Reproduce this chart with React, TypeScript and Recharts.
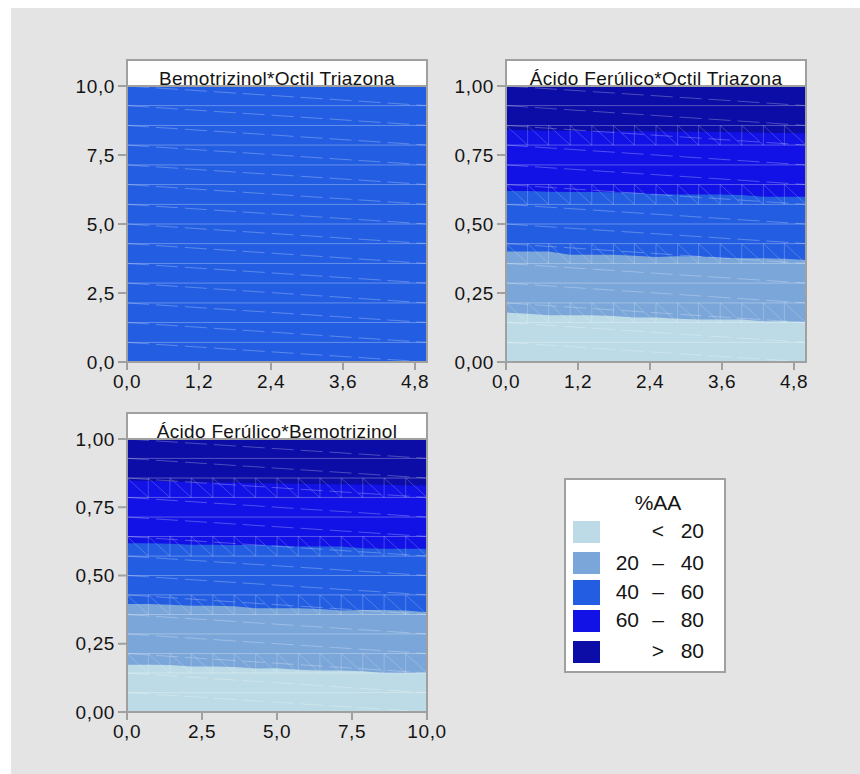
import { ComposedChart, Area, XAxis, YAxis, ReferenceLine } from 'recharts';

const FONT = '"Liberation Sans", Arial, Helvetica, sans-serif';
const BG = '#e4e4e4';
const FRAME = '#a0a0a0';

const C_LT20 = '#bcdbe6';
const C_2040 = '#7ba6d9';
const C_4060 = '#235ee2';
const C_6080 = '#1212e6';
const C_GT80 = '#0c0ca6';

// mesh columns / rows of the contour grid
const xGrid5 = [0, 0.36, 0.71, 1.07, 1.43, 1.79, 2.14, 2.5, 2.86, 3.21, 3.57, 3.93, 4.29, 4.64, 5];
const xGrid10 = [0, 0.71, 1.43, 2.14, 2.86, 3.57, 4.29, 5, 5.71, 6.43, 7.14, 7.86, 8.57, 9.29, 10];
const rowsBem = [0, 0.71, 1.43, 2.14, 2.86, 3.57, 4.29, 5, 5.71, 6.43, 7.14, 7.86, 8.57, 9.29, 10];
const rowsAf = [0, 0.071, 0.143, 0.214, 0.286, 0.357, 0.429, 0.5, 0.571, 0.643, 0.714, 0.786, 0.857, 0.929, 1];
const zoneRows = [2, 5, 8, 11];

// Bemotrizinol*Octil Triazona (all 40–60)
const bemOtTop = [10, 10, 10, 10, 10, 10, 10, 10, 10, 10, 10, 10, 10, 10, 10];

// Ácido Ferúlico*Octil Triazona
const afOt20 = [0.179, 0.175, 0.169, 0.169, 0.169, 0.167, 0.161, 0.161, 0.157, 0.154, 0.154, 0.154, 0.148, 0.148, 0.145];
const afOt40 = [0.4, 0.4, 0.4, 0.389, 0.389, 0.389, 0.385, 0.38, 0.383, 0.383, 0.378, 0.376, 0.376, 0.374, 0.37];
const afOt60 = [0.62, 0.62, 0.617, 0.616, 0.616, 0.615, 0.613, 0.608, 0.607, 0.607, 0.607, 0.605, 0.599, 0.599, 0.599];
const afOt80 = [0.842, 0.84, 0.838, 0.838, 0.837, 0.836, 0.836, 0.835, 0.834, 0.834, 0.833, 0.832, 0.831, 0.83, 0.829];
const afOtTop = [1, 1, 1, 1, 1, 1, 1, 1, 1, 1, 1, 1, 1, 1, 1];

// Ácido Ferúlico*Bemotrizinol
const afBem20 = [0.173, 0.173, 0.172, 0.167, 0.167, 0.165, 0.159, 0.16, 0.155, 0.152, 0.152, 0.149, 0.143, 0.143, 0.143];
const afBem40 = [0.396, 0.396, 0.393, 0.389, 0.389, 0.387, 0.38, 0.38, 0.38, 0.377, 0.372, 0.374, 0.374, 0.372, 0.365];
const afBem60 = [0.618, 0.618, 0.616, 0.613, 0.613, 0.612, 0.612, 0.61, 0.606, 0.606, 0.606, 0.6, 0.598, 0.598, 0.598];
const afBem80 = [0.848, 0.846, 0.844, 0.842, 0.841, 0.84, 0.838, 0.837, 0.836, 0.835, 0.834, 0.833, 0.832, 0.831, 0.83];
const afBemTop = [1, 1, 1, 1, 1, 1, 1, 1, 1, 1, 1, 1, 1, 1, 1];

const legendTitle = '%AA';
const legendRows = [
  { a: '', b: '<', c: '20', color: C_LT20 },
  { a: '20', b: '–', c: '40', color: C_2040 },
  { a: '40', b: '–', c: '60', color: C_4060 },
  { a: '60', b: '–', c: '80', color: C_6080 },
  { a: '', b: '>', c: '80', color: C_GT80 },
];

const bemOtRows = xGrid5.map((x, i) => ({ x, top: bemOtTop[i] }));
const afOtRows = xGrid5.map((x, i) => ({ x, top: afOtTop[i], b80: afOt80[i], b60: afOt60[i], b40: afOt40[i], b20: afOt20[i] }));
const afBemRows = xGrid10.map((x, i) => ({ x, top: afBemTop[i], b80: afBem80[i], b60: afBem60[i], b40: afBem40[i], b20: afBem20[i] }));

const fullBands = [
  { key: 'top', color: C_GT80 },
  { key: 'b80', color: C_6080 },
  { key: 'b60', color: C_4060 },
  { key: 'b40', color: C_2040 },
  { key: 'b20', color: C_LT20 },
];

const fmt = (d: number) => (v: number) => v.toFixed(d).replace('.', ',');

function meshLines(mx: number[], my: number[], zones: number[]) {
  const out: any[] = [];
  const x0 = mx[0];
  const x1 = mx[mx.length - 1];
  my.slice(1, -1).forEach((y, i) => {
    out.push(<ReferenceLine key={`h${i}`} y={y} stroke="#fff" strokeOpacity={0.3} strokeWidth={1} />);
  });
  for (let k = 1; k < my.length; k++) {
    out.push(
      <ReferenceLine key={`d${k}`} segment={[{ x: x0, y: my[k] }, { x: x1, y: my[k - 1] }]}
        stroke="#fff" strokeOpacity={0.26} strokeDasharray="22 7" />
    );
  }
  zones.forEach((z) => {
    mx.forEach((x, i) => {
      out.push(
        <ReferenceLine key={`v${z}-${i}`} segment={[{ x, y: my[z] }, { x, y: my[z + 1] }]}
          stroke="#fff" strokeOpacity={0.22} />
      );
      if (i < mx.length - 1) {
        out.push(
          <ReferenceLine key={`t${z}-${i}`} segment={[{ x, y: my[z + 1] }, { x: mx[i + 1], y: my[z] }]}
            stroke="#fff" strokeOpacity={0.2} />
        );
      }
    });
  });
  return out;
}

function Panel(props: any) {
  const { left, top, width, height, margin, data, bands, xDomain, xTicks, yDomain, yTicks, yDec, mx, my, zones } = props;
  const tickStyle = { fill: '#141414', fontSize: 19, fontFamily: FONT, letterSpacing: 0.6 };
  return (
    <div style={{ position: 'absolute', left, top, width, height }}>
      <ComposedChart width={width} height={height} data={data} margin={margin}>
        <XAxis dataKey="x" type="number" domain={xDomain} ticks={xTicks} tickFormatter={fmt(1)}
          axisLine={false} tickSize={8} tickMargin={5} height={30}
          tickLine={{ stroke: FRAME, strokeWidth: 2 }} tick={tickStyle} allowDataOverflow interval={0} />
        <YAxis type="number" domain={yDomain} ticks={yTicks} tickFormatter={fmt(yDec)}
          axisLine={false} tickSize={9} tickMargin={3} width={60}
          tickLine={{ stroke: FRAME, strokeWidth: 2 }} tick={tickStyle} allowDataOverflow interval={0} />
        {bands.map((b: any) => (
          <Area key={b.key} type="linear" dataKey={b.key} stroke="none" fill={b.color} fillOpacity={1}
            isAnimationActive={false} dot={false} activeDot={false} />
        ))}
        {meshLines(mx, my, zones)}
      </ComposedChart>
    </div>
  );
}

function Overlay() {
  const panels = [
    { x: 127, y: 60, h: 302, title: 'Bemotrizinol*Octil Triazona' },
    { x: 506, y: 60, h: 302, title: 'Ácido Ferúlico*Octil Triazona' },
    { x: 127, y: 413, h: 299, title: 'Ácido Ferúlico*Bemotrizinol' },
  ];
  const sw = [
    { y: 521, h: 22, base: 538 },
    { y: 552, h: 22, base: 570 },
    { y: 580, h: 25, base: 599 },
    { y: 610, h: 22, base: 627 },
    { y: 641, h: 22, base: 658 },
  ];
  return (
    <svg width={860} height={774} style={{ position: 'absolute', left: 0, top: 0, pointerEvents: 'none' }}>
      {panels.map((p) => (
        <g key={p.title}>
          <rect x={p.x} y={p.y} width={300} height={p.h} fill="none" stroke={FRAME} strokeWidth={2} />
          <rect x={p.x} y={p.y} width={300} height={26} fill="#fff" stroke={FRAME} strokeWidth={2} />
          <text x={p.x + 150} y={p.y + 25} textAnchor="middle" fontFamily={FONT} fontSize={19}
            letterSpacing={0.3} fill="#141414">{p.title}</text>
        </g>
      ))}
      <rect x={565} y={479} width={160} height={193} fill="#fff" stroke={FRAME} strokeWidth={2} />
      <text x={658} y={510} textAnchor="middle" fontFamily={FONT} fontSize={21} fill="#141414">{legendTitle}</text>
      {legendRows.map((r, i) => (
        <g key={i}>
          <rect x={573} y={sw[i].y} width={27} height={sw[i].h} fill={r.color} />
          <text x={639} y={sw[i].base} textAnchor="end" fontFamily={FONT} fontSize={21} fill="#141414">{r.a}</text>
          <text x={658} y={sw[i].base} textAnchor="middle" fontFamily={FONT} fontSize={21} fill="#141414">{r.b}</text>
          <text x={704} y={sw[i].base} textAnchor="end" fontFamily={FONT} fontSize={21} fill="#141414">{r.c}</text>
        </g>
      ))}
    </svg>
  );
}

export default function App() {
  return (
    <div style={{ position: 'absolute', left: 0, top: 0, width: 860, height: 774, background: '#fff', fontFamily: FONT }}>
      <div style={{ position: 'absolute', left: 11, top: 8, width: 849, height: 766, background: BG }} />
      <Panel left={60} top={50} width={380} height={350} data={bemOtRows}
        margin={{ top: 36, right: 13, bottom: 8, left: 7 }}
        bands={[{ key: 'top', color: C_4060 }]}
        xDomain={[0, 5]} xTicks={[0, 1.2, 2.4, 3.6, 4.8]}
        yDomain={[0, 10]} yTicks={[0, 2.5, 5, 7.5, 10]} yDec={1}
        mx={xGrid5} my={rowsBem} zones={[]} />
      <Panel left={440} top={50} width={400} height={350} data={afOtRows}
        margin={{ top: 36, right: 34, bottom: 8, left: 6 }}
        bands={fullBands}
        xDomain={[0, 5]} xTicks={[0, 1.2, 2.4, 3.6, 4.8]}
        yDomain={[0, 1]} yTicks={[0, 0.25, 0.5, 0.75, 1]} yDec={2}
        mx={xGrid5} my={rowsAf} zones={zoneRows} />
      <Panel left={60} top={403} width={400} height={350} data={afBemRows}
        margin={{ top: 36, right: 33, bottom: 11, left: 7 }}
        bands={fullBands}
        xDomain={[0, 10]} xTicks={[0, 2.5, 5, 7.5, 10]}
        yDomain={[0, 1]} yTicks={[0, 0.25, 0.5, 0.75, 1]} yDec={2}
        mx={xGrid10} my={rowsAf} zones={zoneRows} />
      <Overlay />
    </div>
  );
}
